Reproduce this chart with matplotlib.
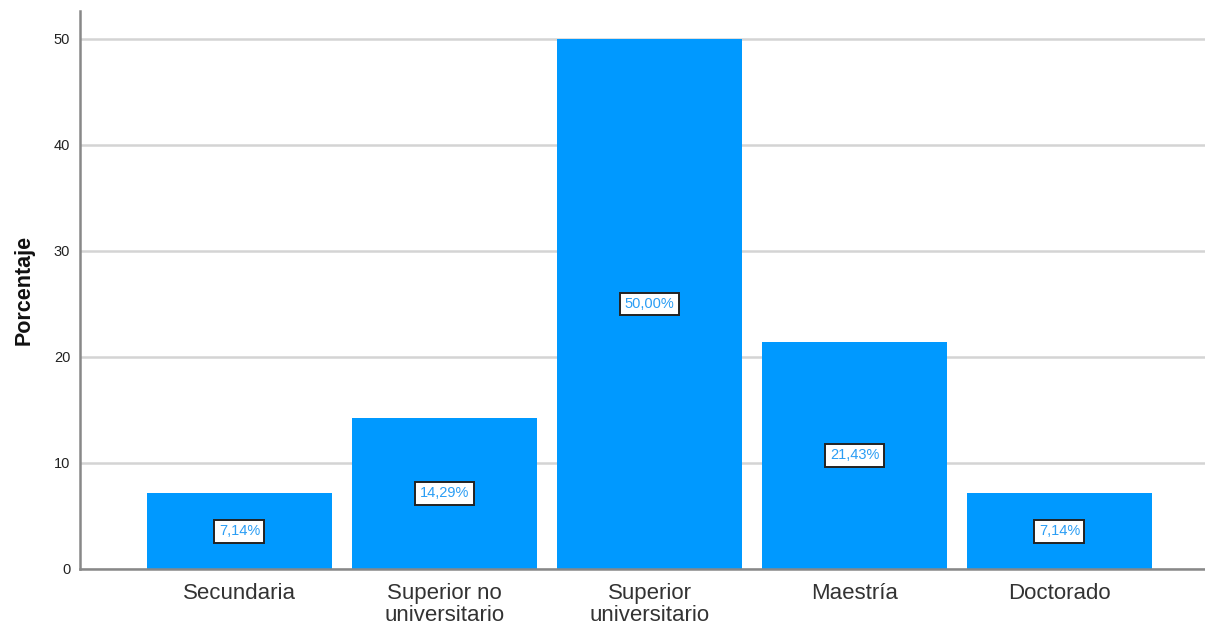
import matplotlib
matplotlib.use("Agg")
import matplotlib.pyplot as plt

plt.rcParams["font.family"] = ["Liberation Sans", "DejaVu Sans"]

categories = ["Secundaria", "Superior no\nuniversitario", "Superior\nuniversitario", "Maestría", "Doctorado"]
percentages = [7.14, 14.29, 50.00, 21.43, 7.14]
y_ticks = [0, 10, 20, 30, 40, 50]

fig = plt.figure(figsize=(12.05, 6.26), dpi=100)
ax = fig.add_axes([80 / 1205, 57 / 626, 1 - 80 / 1205, (569 - 11) / 626])

x = list(range(len(categories)))
ax.set_axisbelow(True)
ax.yaxis.grid(True, color="#d4d4d4", linewidth=1.8)
ax.bar(x, percentages, width=0.9, color="#0099ff", edgecolor="none", zorder=2)

for xi, v in zip(x, percentages):
    ax.text(xi, v / 2, f"{v:.2f}%".replace(".", ","), ha="center", va="center",
            fontsize=10.5, color="#2a9df4", zorder=3,
            bbox=dict(boxstyle="square,pad=0.3", facecolor="white",
                      edgecolor="#222222", linewidth=1.4))

ax.set_xlim(-0.778, 4.71)
ax.set_ylim(0, 52.64)
ax.set_yticks(y_ticks)
ax.set_xticks(x)
ax.set_xticklabels(categories, fontsize=16, color="#333333", linespacing=1.05)
ax.tick_params(axis="y", length=0, labelsize=10.5, colors="#222222", pad=7)
ax.tick_params(axis="x", length=0, pad=10)
ax.set_ylabel("Porcentaje", fontsize=15.5, fontweight="bold", color="#111111", labelpad=14)

for s in ["top", "right"]:
    ax.spines[s].set_visible(False)
for s in ["left", "bottom"]:
    ax.spines[s].set_color("#888888")
    ax.spines[s].set_linewidth(1.8)

fig.savefig("out.png", dpi=100, facecolor="white")
